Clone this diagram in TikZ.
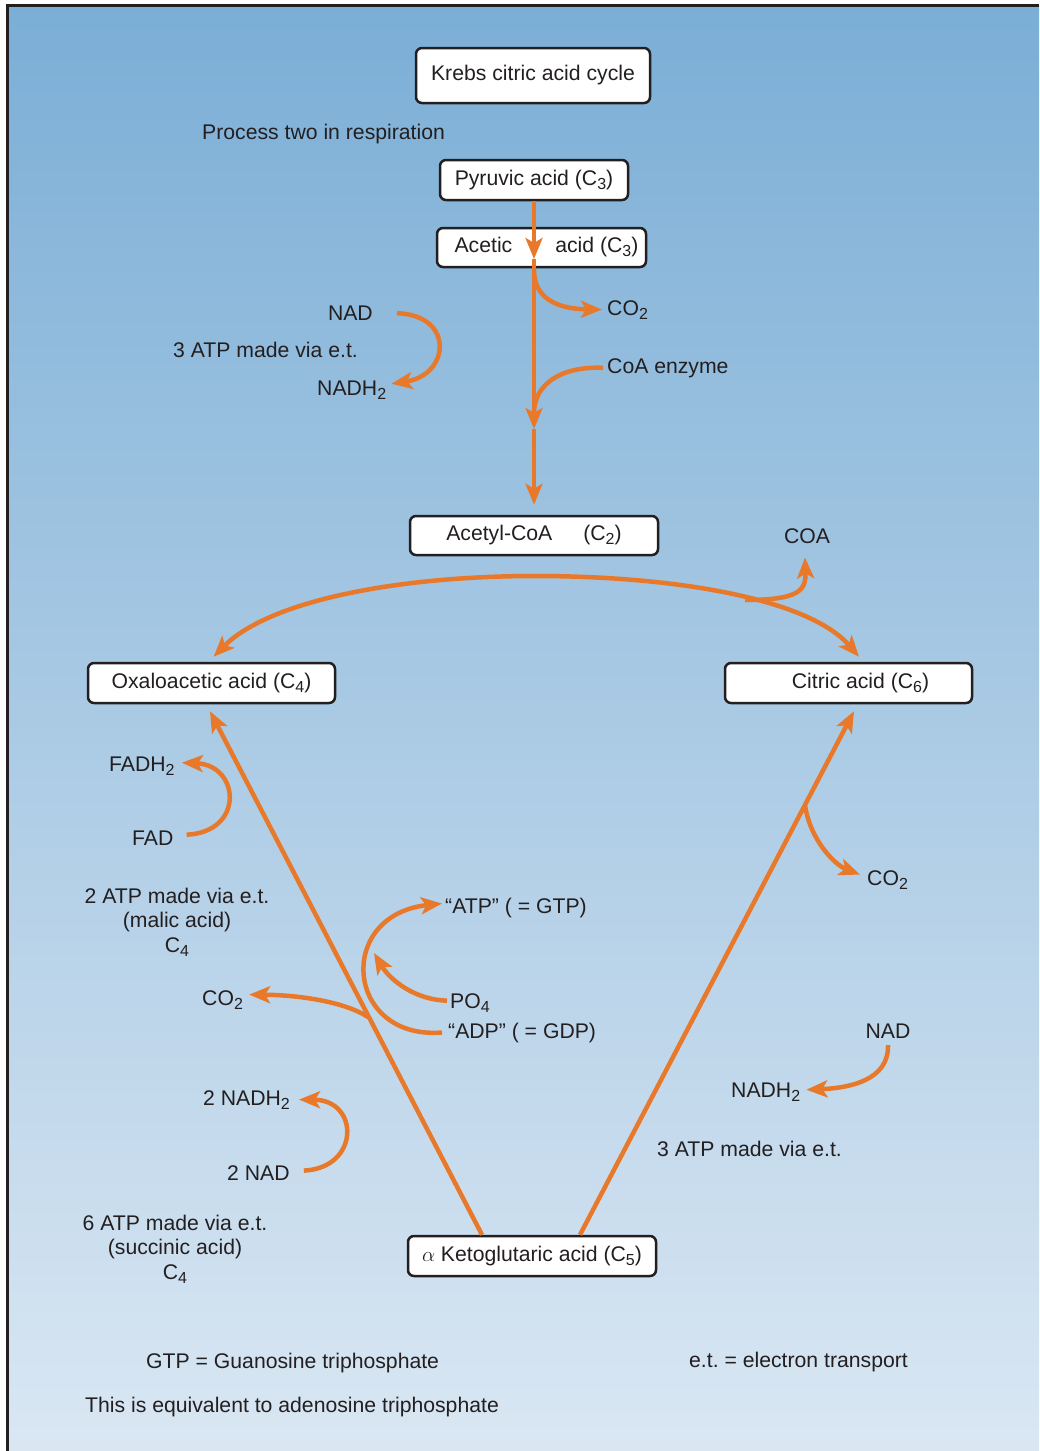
\documentclass[tikz,border=0pt]{standalone}
\usepackage{fontspec}
\setmainfont{Liberation Sans}
\usepackage{tikz}
\usetikzlibrary{arrows.meta,positioning}
\definecolor{flowc}{HTML}{E8792A}
\definecolor{inkc}{HTML}{231F20}
\definecolor{bgtop}{HTML}{7BAED6}
\definecolor{bgbot}{HTML}{DAE7F3}
\newcommand{\lowidx}[1]{\raisebox{-4pt}{\fontsize{16}{16}\selectfont #1}}
\frenchspacing
\tikzset{
  flow/.style={-{Stealth[length=21pt,width=17pt,inset=5pt]},line width=4.5pt,flowc},
  flowboth/.style={{Stealth[length=21pt,width=17pt,inset=5pt]}-{Stealth[length=21pt,width=17pt,inset=5pt]},line width=4.5pt,flowc},
  plain/.style={line width=4.5pt,flowc},
  box/.style={draw=inkc,line width=2.5pt,rounded corners=6pt,fill=white,inner sep=0pt,text=inkc},
  lbl/.style={inner sep=0pt,text=inkc}
}

\begin{document}
\begin{tikzpicture}[x=1pt,y=-1pt,font=\fontsize{21.2}{24.5}\selectfont]
\useasboundingbox (0,0) rectangle (1039,1451);
% background and frame
\shade[top color=bgtop,bottom color=bgbot] (7,5) rectangle (1039,1451);
\draw[inkc,line width=3pt] (1039,5) -- (7,5) -- (7,1451);

% boxes
\node[box,minimum width=234pt,minimum height=55pt] (krebs) at (533,75.5) {Krebs citric acid cycle};
\node[box,minimum width=188pt,minimum height=40pt] (pyr) at (534,180) {Pyruvic acid (C\lowidx{3})};
\node[box,minimum width=209pt,minimum height=39pt] (acetic) at (541.5,247.5) {\hspace*{10pt}Acetic\hspace{43pt}acid (C\lowidx{3})};
\node[box,minimum width=248pt,minimum height=39pt] (acetyl) at (534,535.5) {Acetyl-CoA\hspace{31pt}(C\lowidx{2})};
\node[box,minimum width=247pt,minimum height=40pt] (oxalo) at (211.5,683) {Oxaloacetic acid (C\lowidx{4})};
\node[box,minimum width=247pt,minimum height=40pt] (citric) at (848.5,683) {\hspace*{24pt}Citric acid (C\lowidx{6})};
\node[box,minimum width=248pt,minimum height=40pt] (keto) at (532,1256) {$\alpha$ Ketoglutaric acid (C\lowidx{5})};

% labels
\node[lbl,anchor=base west] (proc) at (202,139.5) {Process two in respiration};
\node[lbl,anchor=base east] (nadA) at (373,320.5) {NAD};
\node[lbl,anchor=base west] (atpA) at (173,357.5) {3 ATP made via e.t.};
\node[lbl,anchor=base west] (nadhA) at (317,395) {NADH\lowidx{2}};
\node[lbl,anchor=base west] (coA) at (607,315) {CO\lowidx{2}};
\node[lbl,anchor=base west] (coaenz) at (607,373) {CoA enzyme};
\node[lbl,anchor=base] (coafree) at (807,543) {COA};
\node[lbl,anchor=base west] (fadh) at (109,771) {FADH\lowidx{2}};
\node[lbl,anchor=base west] (fad) at (132,845) {FAD};
\node[lbl,align=center,anchor=north] (atpB) at (177,887.5) {2 ATP made via e.t.\\(malic acid)\\C\lowidx{4}};
\node[lbl,anchor=base west] (coB) at (202,1005) {CO\lowidx{2}};
\node[lbl,anchor=base west] (gtp) at (445,913) {“ATP” ( = GTP)};
\node[lbl,anchor=base west] (po) at (450,1008) {PO\lowidx{4}};
\node[lbl,anchor=base west] (gdp) at (448,1038) {“ADP” ( = GDP)};
\node[lbl,anchor=base west] (coC) at (867,885) {CO\lowidx{2}};
\node[lbl,anchor=base] (nadC) at (888,1038) {NAD};
\node[lbl,anchor=base west] (nadhC) at (731,1097) {NADH\lowidx{2}};
\node[lbl,anchor=base west] (atpC) at (657,1156) {3 ATP made via e.t.};
\node[lbl,anchor=base west] (nadhD) at (203,1105) {2 NADH\lowidx{2}};
\node[lbl,anchor=base west] (nadD) at (227,1180) {2 NAD};
\node[lbl,align=center,anchor=north] (atpD) at (175,1214.5) {6 ATP made via e.t.\\(succinic acid)\\C\lowidx{4}};
\node[lbl,anchor=base west] (gtpnote) at (146,1368) {GTP = Guanosine triphosphate};
\node[lbl,anchor=base west] (etnote) at (689,1367) {e.t. = electron transport};
\node[lbl,anchor=base west] (eqnote) at (85,1412) {This is equivalent to adenosine triphosphate};

% junction points
\coordinate (tipA) at (534,259);
\coordinate (forkA) at (534,270);
\coordinate (joinB) at (534,413);
\coordinate (tipB) at (534,429);
\coordinate (coajoin) at (745,600);
\coordinate (forkB) at (368,1017);
\coordinate (forkC) at (805,805);
\coordinate (potip) at (374,953);

% pyruvic -> acetyl-CoA
\draw[flow] (pyr.south) -- (tipA);
\draw[flow] (tipA) -- (tipB);
\draw[flow] (tipB) -- ([yshift=10pt]acetyl.north);
\draw[flow] (forkA) .. controls (534,300) and (560,309) .. ([xshift=-5pt]coA.west);
\draw[plain] ([xshift=-4pt]coaenz.west) .. controls (560,366) and (534,385) .. (joinB);
\draw[flow] ([xshift=24pt]nadA.east) .. controls (455,315) and (450,375) .. ([xshift=5pt,yshift=6pt]nadhA.east);

% the cycle
\draw[flowboth] ([xshift=2pt,yshift=5pt]oxalo.north) .. controls (270,600) and (400,576) .. (535,576)
  .. controls (680,576) and (810,600) .. ([xshift=10.5pt,yshift=5pt]citric.north);
\draw[flow] (coajoin) .. controls (800,600) and (806,590) .. ([xshift=-2pt,yshift=-14pt]coafree.south);
\draw[flow] ([xshift=-50pt]keto.north) -- ([xshift=-1.5pt,yshift=-7pt]oxalo.south);
\draw[flow] ([xshift=48pt]keto.north) -- ([xshift=5.5pt,yshift=-7pt]citric.south);

% side reactions
\draw[flow] ([xshift=13pt,yshift=3pt]fad.east) .. controls (245,832) and (240,765) .. ([xshift=7pt,yshift=3pt]fadh.east);
\draw[flow] (forkB) .. controls (345,1002) and (300,995) .. ([xshift=6pt,yshift=5pt]coB.east);
\draw[flow] ([xshift=-6pt]gdp.west) .. controls (345,1040) and (335,915) .. ([xshift=-3pt,yshift=4pt]gtp.west);
\draw[flow] ([xshift=-3pt,yshift=2pt]po.west) .. controls (415,1000) and (390,980) .. (potip);
\draw[flow] (forkC) .. controls (810,840) and (835,865) .. ([xshift=-7pt,yshift=5pt]coC.west);
\draw[flow] ([yshift=-7pt]nadC.south) .. controls (889,1080) and (850,1088) .. ([xshift=6pt,yshift=2pt]nadhC.east);
\draw[flow] ([xshift=14pt,yshift=2pt]nadD.east) .. controls (360,1168) and (360,1100) .. ([xshift=9pt]nadhD.east);
\end{tikzpicture}
\end{document}
